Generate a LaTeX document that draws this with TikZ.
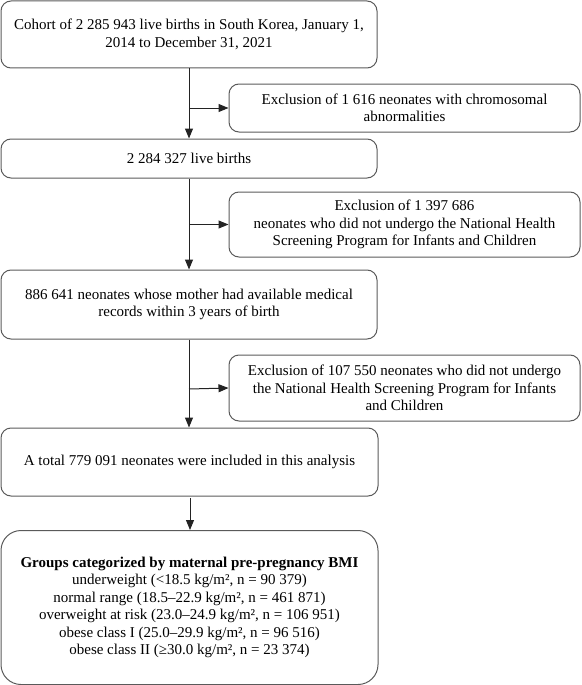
\documentclass[tikz,border=0pt]{standalone}
\usepackage{fontspec}
\setmainfont{Liberation Serif}
\usetikzlibrary{arrows.meta}
\definecolor{boxgray}{RGB}{90,90,90}
\definecolor{arrgray}{RGB}{35,35,35}
\begin{document}
\begin{tikzpicture}[x=1pt,y=-1pt,
  box/.style={draw=boxgray, line width=1pt, rounded corners=10pt, inner sep=0pt,
    align=center, font=\fontsize{15}{17.5}\selectfont, text=black},
  arr/.style={draw=arrgray, line width=1pt, -{Triangle[length=10pt,width=8pt]}}]
\useasboundingbox (0,0) rectangle (581,685);
\node[box, minimum width=376pt, minimum height=67pt] (b1) at (189,34.5)
  {Cohort of 2 285 943 live births in South Korea, January 1,\\2014 to December 31, 2021};
\node[box, minimum width=351pt, minimum height=48pt] (e1) at (404.5,108)
  {Exclusion of 1 616 neonates with chromosomal\\abnormalities};
\node[box, minimum width=376pt, minimum height=39pt] (b2) at (189,158.5)
  {2 284 327 live births};
\node[box, minimum width=351pt, minimum height=65pt] (e2) at (404.5,224.5)
  {Exclusion of 1 397 686\\neonates who did not undergo the National Health\\Screening Program for Infants and Children};
\node[box, minimum width=376pt, minimum height=69pt] (b3) at (189,304.5)
  {886 641 neonates whose mother had available medical\\records within 3 years of birth};
\node[box, minimum width=351pt, minimum height=66pt] (e3) at (404.5,388)
  {Exclusion of 107 550 neonates who did not undergo\\the National Health Screening Program for Infants\\and Children};
\node[box, minimum width=377pt, minimum height=68pt] (b4) at (189.5,462)
  {A total 779 091 neonates were included in this analysis};
\node[box, rounded corners=20pt, minimum width=377pt, minimum height=154pt] (b5) at (189.5,607.5)
  {\textbf{Groups categorized by maternal pre-pregnancy BMI}\\
   underweight (<18.5 kg/m², n = 90 379)\\
   normal range (18.5–22.9 kg/m², n = 461 871)\\
   overweight at risk (23.0–24.9 kg/m², n = 106 951)\\
   obese class I (25.0–29.9 kg/m², n = 96 516)\\
   obese class II (≥30.0 kg/m², n = 23 374)};
\coordinate (j1) at (189,108);
\coordinate (j2) at (189,224.5);
\coordinate (j3) at (189,389);
\coordinate (s4) at (190,498);
\draw[arr] (b1.south) -- (b2.north);
\draw[arr] (j1) -- (e1.west);
\draw[arr] (b2.south) -- (b3.north);
\draw[arr] (j2) -- (e2.west);
\draw[arr] (b3.south -| j3) -- (j3 |- b4.north);
\draw[arr] (j3) -- (e3.west);
\draw[arr] (s4) -- (s4 |- b5.north);
\end{tikzpicture}
\end{document}
